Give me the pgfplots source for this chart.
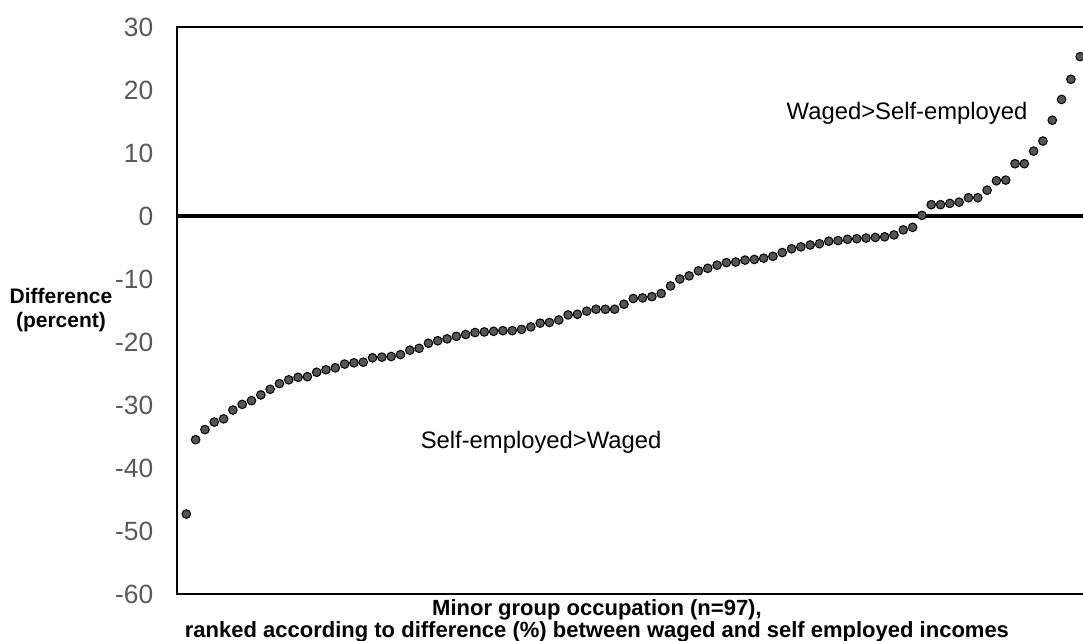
\documentclass[border=0pt]{standalone}
\usepackage{pgfplots}
\usepackage{pgfplotstable}
\pgfplotsset{compat=1.18}
\usepackage{fontspec}
\setmainfont{Liberation Sans}
\definecolor{tickgray}{HTML}{595959}
\definecolor{dotgray}{HTML}{555555}

% ranked difference (%) between waged and self employed incomes
\pgfplotstableread{
i d
1 -47.3
2 -35.5
3 -33.9
4 -32.7
5 -32.2
6 -30.8
7 -29.9
8 -29.3
9 -28.4
10 -27.5
11 -26.6
12 -26.0
13 -25.6
14 -25.5
15 -24.8
16 -24.4
17 -24.1
18 -23.5
19 -23.3
20 -23.2
21 -22.5
22 -22.4
23 -22.3
24 -22.0
25 -21.3
26 -21.0
27 -20.2
28 -19.8
29 -19.5
30 -19.1
31 -18.8
32 -18.5
33 -18.4
34 -18.3
35 -18.2
36 -18.2
37 -18.0
38 -17.6
39 -17.0
40 -16.9
41 -16.5
42 -15.7
43 -15.6
44 -15.1
45 -14.8
46 -14.8
47 -14.8
48 -14.0
49 -13.1
50 -13.0
51 -12.8
52 -12.3
53 -11.1
54 -10.0
55 -9.5
56 -8.7
57 -8.3
58 -7.8
59 -7.4
60 -7.3
61 -7.0
62 -6.9
63 -6.7
64 -6.4
65 -5.8
66 -5.2
67 -4.9
68 -4.6
69 -4.4
70 -4.0
71 -3.9
72 -3.7
73 -3.6
74 -3.5
75 -3.4
76 -3.3
77 -3.0
78 -2.2
79 -1.8
80 0.1
81 1.8
82 1.8
83 2.0
84 2.2
85 2.9
86 2.9
87 4.1
88 5.6
89 5.7
90 8.3
91 8.3
92 10.3
93 11.9
94 15.2
95 18.5
96 21.7
97 25.3
}\diffdata

\begin{document}
\begin{tikzpicture}
\begin{axis}[
  width=465.5pt, height=283.5pt, scale only axis,
  xmin=0, xmax=100, ymin=-60, ymax=30,
  xtick=\empty,
  ytick={-60,-50,...,30},
  yticklabels={-60,-50,-40,-30,-20,-10,0,10,20,30},
  major tick length=0pt,
  axis line style={black, line width=0.6pt},
  yticklabel style={font=\fontsize{13.2}{15}\selectfont, text=tickgray, inner sep=0pt, xshift=-11.7pt},
  ylabel={Difference\\(percent)},
  ylabel style={rotate=-90, at={(axis description cs:-0.1246,0.5)}, anchor=center, align=center,
    font=\bfseries\fontsize{10.5}{12}\selectfont},
  xlabel={Minor group occupation (n=97),\\ranked according to difference (\%) between waged and self employed incomes},
  xlabel style={at={(axis cs:45.1,-60)}, anchor=north, yshift=-2.5pt, inner sep=0pt, align=center,
    font=\bfseries\fontsize{11}{10.2}\selectfont},
  clip=false,
]
\addplot[black, line width=1.8pt] coordinates {(0,0) (100,0)};
\addplot[only marks, mark=*, mark size=2.15pt,
  mark options={fill=dotgray, draw=black, line width=0.5pt}] table[x=i, y=d] {\diffdata};
\node[font=\fontsize{11.9}{14}\selectfont] at (axis cs:78.4,16.3) {Waged>Self-employed};
\node[font=\fontsize{11.9}{14}\selectfont] at (axis cs:39.1,-36) {Self-employed>Waged};
\coordinate (bl) at (axis cs:0,-60);
\coordinate (tr) at (axis cs:97.3,30);
\end{axis}
\pgfresetboundingbox
\useasboundingbox ([xshift=-88.5pt,yshift=-23pt]bl) rectangle ([yshift=13.5pt]tr);
\end{tikzpicture}
\end{document}
